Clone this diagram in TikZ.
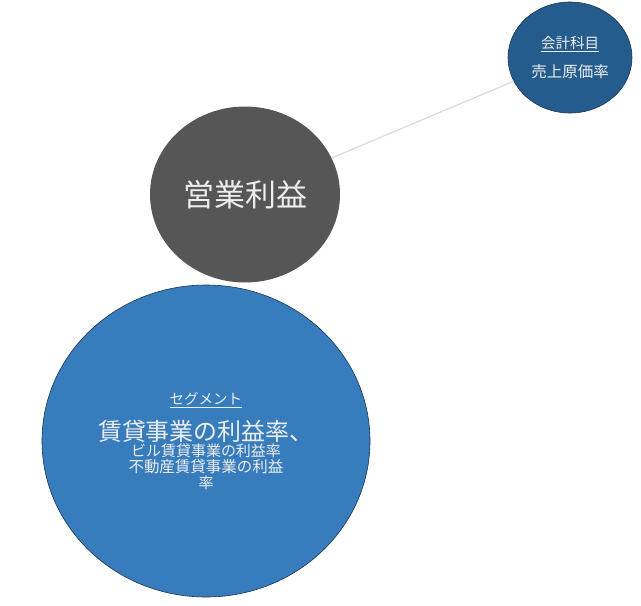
\documentclass[tikz,border=0pt]{standalone}
\usepackage{fontspec}
\setmainfont{Noto Sans CJK JP}
\usetikzlibrary{shapes.geometric}
\definecolor{acctblue}{HTML}{245C8E}
\definecolor{segblue}{HTML}{377CBD}
\definecolor{opgray}{HTML}{565656}
\definecolor{edgeblue}{HTML}{1E3550}
\definecolor{txt}{HTML}{EDEDED}
\definecolor{linkc}{HTML}{DDDAD5}
\begin{document}
\begin{tikzpicture}[x=1pt,y=-1pt,
  bubble/.style={ellipse, inner sep=0pt, align=center, text=txt,
                 font=\fontsize{11}{16}\selectfont},
  link/.style={draw=linkc, line width=1.2pt}]
\useasboundingbox (0,0) rectangle (641,606);
\node[bubble, fill=acctblue, draw=edgeblue, line width=0.6pt,
      minimum width=124pt, minimum height=111pt] (acct) at (570,57.5)
  {\fontsize{14.5}{16}\selectfont\underline{会計科目}\\[12pt]
   \fontsize{15.5}{16}\selectfont 売上原価率};
\node[bubble, fill=opgray, minimum width=190pt, minimum height=176pt] (op) at (245,194.5)
  {\fontsize{31}{32}\selectfont 営業利益};
\node[bubble, fill=segblue, draw=edgeblue, line width=0.6pt,
      minimum width=328pt, minimum height=312pt] (seg) at (206,441)
  {\fontsize{14.5}{16}\selectfont\underline{セグメント}\\[12pt]
   \fontsize{24}{24}\selectfont 賃貸事業の利益率、\\
   \fontsize{15}{16}\selectfont ビル賃貸事業の利益率\\
   \fontsize{15.5}{16}\selectfont 不動産賃貸事業の利益\\
   \fontsize{15}{16}\selectfont 率};
\draw[link] (op) -- (acct);
\end{tikzpicture}
\end{document}
